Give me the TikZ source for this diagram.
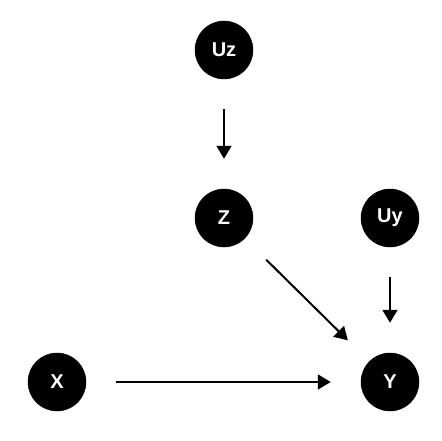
\documentclass[tikz,border=0pt]{standalone}
\usepackage{fontspec}
\setmainfont{Liberation Sans}
\usetikzlibrary{arrows.meta,positioning}
\tikzset{
  var/.style={circle,draw=black,line width=0.5pt,fill=black,text=white,inner sep=0pt,minimum size=58pt,font=\fontsize{20}{24}\selectfont\bfseries},
  flecha/.style={-{Triangle[length=13pt,width=15pt]},line width=2pt,shorten <=30pt,shorten >=30pt},
}
\begin{document}
\begin{tikzpicture}[x=1pt,y=-1pt]
\useasboundingbox (0,0) rectangle (441,441);
\coordinate (c1) at (224,50);
\coordinate (c2) at (224,218);
\coordinate (c3) at (390,218);
\coordinate (c4) at (57,382);
\coordinate (c5) at (390,382);
\node[var] (uz) at (c1) {Uz};
\node[var] (z) at (c2) {Z};
\node[var] (uy) at (c3) {Uy};
\node[var] (x) at (c4) {X};
\node[var] (y) at (c5) {Y};
\draw[flecha] (uz) -- (z);
\draw[flecha] (z) -- (y);
\draw[flecha] (uy) -- (y);
\draw[flecha] (x) -- (y);
\end{tikzpicture}
\end{document}
